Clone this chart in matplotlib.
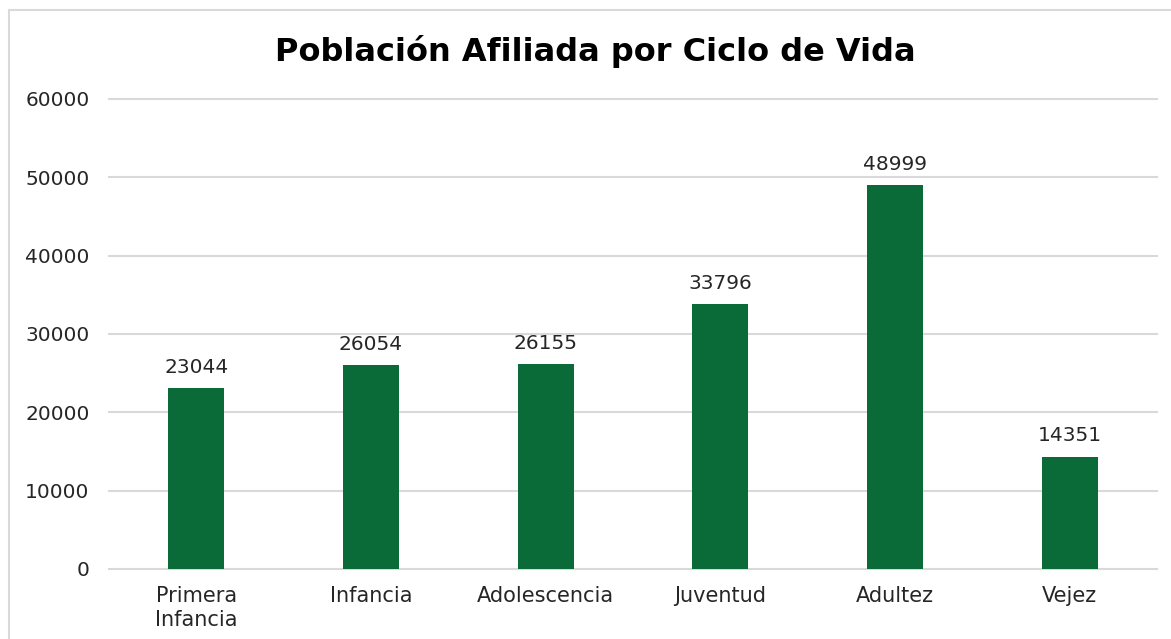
import matplotlib
matplotlib.use("Agg")
import matplotlib.pyplot as plt
from matplotlib.patches import Rectangle

categories = ["Primera\nInfancia", "Infancia", "Adolescencia", "Juventud", "Adultez", "Vejez"]
values = [23044, 26054, 26155, 33796, 48999, 14351]
yticks = [0, 10000, 20000, 30000, 40000, 50000, 60000]
title = "Población Afiliada por Ciclo de Vida"

W, H = 1171, 639
fig = plt.figure(figsize=(W / 100, H / 100), dpi=100)
fig.patch.set_facecolor("white")

# outer chart border
fig.add_artist(Rectangle((9 / W, -0.1), 1.2, (H - 10) / H + 0.1, transform=fig.transFigure,
                         fill=False, edgecolor="#D9D9D9", linewidth=1.5))

ax = fig.add_axes([109 / W, 1 - 569 / H, (1157 - 109) / W, (569 - 99) / H])
x = range(len(categories))
bars = ax.bar(x, values, width=0.32, color="#0B6B38", zorder=3)
ax.set_xlim(-0.5, len(categories) - 0.5)
ax.set_ylim(0, 60000)
ax.set_yticks(yticks)
ax.set_yticklabels([str(v) for v in yticks])
ax.set_xticks(list(x))
ax.set_xticklabels(categories, linespacing=1.3)
ax.grid(axis="y", color="#D9D9D9", linewidth=1.5, zorder=0)
for gl in ax.get_ygridlines():
    gl.set_clip_on(False)
for s in ax.spines.values():
    s.set_visible(False)
ax.tick_params(axis="y", length=0, labelsize=14.5, labelcolor="#262626", pad=14)
ax.tick_params(axis="x", length=0, labelsize=15, labelcolor="#262626", pad=12)

for b, v in zip(bars, values):
    ax.annotate(str(v), (b.get_x() + b.get_width() / 2, v), xytext=(0, 8),
                textcoords="offset points", ha="center", va="bottom",
                fontsize=14.5, color="#262626")

fig.text(595 / W, 1 - 52 / H, title, ha="center", va="center",
         fontsize=23, fontweight="bold", color="#000000")

fig.savefig("out.png", dpi=100, facecolor="white")
